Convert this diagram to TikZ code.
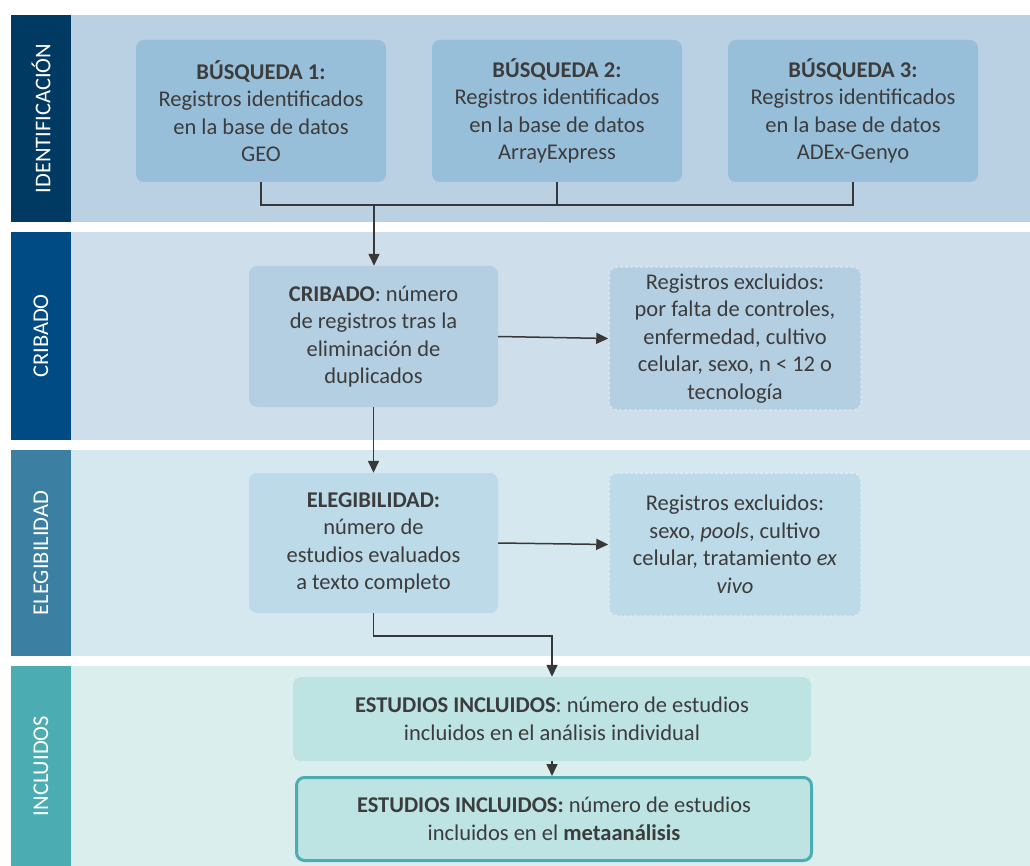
\documentclass[tikz,border=0pt]{standalone}
\usepackage{fontspec}
\setmainfont{Carlito}
\usetikzlibrary{arrows.meta,calc}
\definecolor{txtgray}{HTML}{3C3C3C}
\definecolor{linegray}{HTML}{383838}
\definecolor{sideA}{HTML}{003A62}
\definecolor{sideB}{HTML}{004B84}
\definecolor{sideC}{HTML}{3B7FA2}
\definecolor{sideD}{HTML}{4BADB2}
\definecolor{bandA}{HTML}{BAD1E4}
\definecolor{bandB}{HTML}{CEDFEB}
\definecolor{bandC}{HTML}{D5E7EF}
\definecolor{bandD}{HTML}{DBEEEE}
\definecolor{boxA}{HTML}{98BFD9}
\definecolor{boxB}{HTML}{B4CFE2}
\definecolor{boxC}{HTML}{BCDAE7}
\definecolor{boxD}{HTML}{BDE3E3}
\tikzset{%
  sidebar/.style  = {shape=rectangle, rotate=90, inner sep=0pt,%
                     minimum height=60pt, text=white},%
  band/.style     = {shape=rectangle, inner sep=0pt, minimum width=959pt},%
  flowbox/.style  = {shape=rectangle, rounded corners=8pt, align=center,%
                     inner sep=0pt, text=txtgray},%
  searchbox/.style= {flowbox, fill=boxA, minimum width=250pt, minimum height=142pt},%
  exclbox/.style  = {flowbox, minimum width=252pt, minimum height=143pt,%
                     draw=white!45!#1, dash pattern=on 3pt off 2pt, line width=1.5pt},%
  arr/.style      = {draw=linegray, line width=1.5pt,%
                     -{Triangle[length=12pt,width=11pt]}},%
  link/.style     = {draw=linegray, line width=1.5pt}%
}
\begin{document}
\begin{tikzpicture}[x=1pt,y=-1pt,
	every node/.style={font=\fontsize{22.5}{27.5}\selectfont}]
	\useasboundingbox (0,0) rectangle (1030,866);
	% stages
	\node (bandI) [band, fill=bandA, minimum height=207pt] at (550.5,118.5) {};
	\node (bandC) [band, fill=bandB, minimum height=208pt] at (550.5,336) {};
	\node (bandE) [band, fill=bandC, minimum height=206pt] at (550.5,553) {};
	\node (bandN) [band, fill=bandD, minimum height=200pt] at (550.5,766) {};
	\node (sideI) [sidebar, fill=sideA, minimum width=207pt] at (41,118.5) {IDENTIFICACIÓN};
	\node (sideC) [sidebar, fill=sideB, minimum width=208pt] at (41,336) {CRIBADO};
	\node (sideE) [sidebar, fill=sideC, minimum width=206pt] at (41,553) {ELEGIBILIDAD};
	\node (sideN) [sidebar, fill=sideD, minimum width=200pt] at (41,766) {INCLUIDOS};
	% boxes
	\node (busq1) [searchbox] at (261,111)
		{\textbf{BÚSQUEDA 1:}\\Registros identificados\\en la base de datos\\GEO};
	\node (busq2) [searchbox] at (557,111)
		{\textbf{BÚSQUEDA 2:}\\Registros identificados\\en la base de datos\\ArrayExpress};
	\node (busq3) [searchbox] at (853,111)
		{\textbf{BÚSQUEDA 3:}\\Registros identificados\\en la base de datos\\ADEx-Genyo};
	\node (crib) [flowbox, fill=boxB, minimum width=249pt, minimum height=141pt]
		at (373.5,336.5)
		{\textbf{CRIBADO}: número\\de registros tras la\\eliminación de\\duplicados};
	\node (excl1) [exclbox=boxB, fill=boxB] at (735,338.5)
		{Registros excluidos:\\por falta de controles,\\enfermedad, cultivo\\celular, sexo, n < 12 o\\tecnología};
	\node (eleg) [flowbox, fill=boxC, minimum width=249pt, minimum height=140pt]
		at (373.5,543)
		{\textbf{ELEGIBILIDAD:}\\número de\\estudios evaluados\\a texto completo};
	\node (excl2) [exclbox=boxC, fill=boxC] at (735,544.5)
		{Registros excluidos:\\sexo, \textit{pools}, cultivo\\celular, tratamiento \textit{ex}\\\textit{vivo}};
	\node (inc1) [flowbox, fill=boxD, minimum width=518pt, minimum height=84pt]
		at (552,719)
		{\textbf{ESTUDIOS INCLUIDOS}: número de estudios\\incluidos en el análisis individual};
	\node (inc2) [flowbox, fill=boxD, draw=sideD, line width=3pt,
		minimum width=515pt, minimum height=83pt] at (554,819)
		{\textbf{ESTUDIOS INCLUIDOS:} número de estudios\\incluidos en el \textbf{metaanálisis}};
	% connectors
	\coordinate (join) at (374,205);
	\coordinate (bend) at (552,636);
	\draw[link] (busq1.south) -- (busq1.south |- join) -- (busq3.south |- join) -- (busq3.south);
	\draw[link] (busq2.south) -- (busq2.south |- join);
	\draw[arr] (join) -- (join |- crib.north);
	\draw[arr] (crib.east) -- (excl1.west);
	\draw[arr] (crib.south) -- (eleg.north);
	\draw[arr] (eleg.east) -- (excl2.west);
	\draw[arr] (eleg.south) |- (bend) -- (inc1.north);
	\draw[arr] (inc1.south) -- (inc1.south |- inc2.north);
\end{tikzpicture}
\end{document}
